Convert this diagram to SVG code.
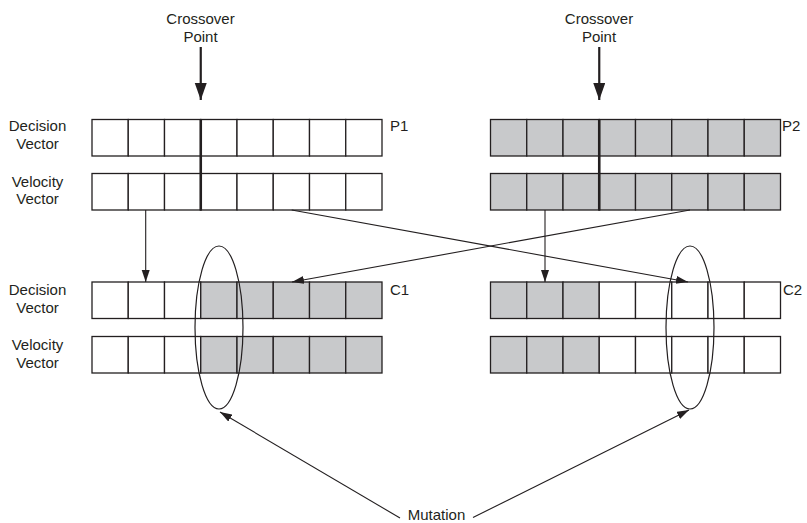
<svg xmlns="http://www.w3.org/2000/svg" width="807" height="523" viewBox="0 0 807 523">
  <style>
    .lbl { font-family: "Liberation Sans", Arial, sans-serif; font-size: 15px; fill: #231f20; }
    .mid { text-anchor: middle; }
    .cell { stroke: #231f20; stroke-width: 1.3; }
    .w { fill: #ffffff; }
    .g { fill: #c8c9cb; }
    .cut { stroke: #231f20; stroke-width: 2.6; }
    .conn { stroke: #231f20; stroke-width: 1.1; fill: none; }
    .ring { stroke: #231f20; stroke-width: 1.2; fill: none; }
  </style>
  <defs>
    <marker id="arr" markerUnits="userSpaceOnUse" markerWidth="13" markerHeight="9" refX="12" refY="4" orient="auto">
      <path d="M0,0 L12,4 L0,8 z" fill="#231f20"/>
    </marker>
    <marker id="arrBig" markerUnits="userSpaceOnUse" markerWidth="18" markerHeight="13" refX="17" refY="6" orient="auto">
      <path d="M0,0 L17,6 L0,12 z" fill="#231f20"/>
    </marker>
    <!-- one row of 8 cells, 36.25 wide -->
    <g id="cellsW">
      <rect class="cell w" x="0" y="0" width="36.25" height="36.5"/>
      <rect class="cell w" x="36.25" y="0" width="36.25" height="36.5"/>
      <rect class="cell w" x="72.5" y="0" width="36.25" height="36.5"/>
      <rect class="cell w" x="108.75" y="0" width="36.25" height="36.5"/>
      <rect class="cell w" x="145" y="0" width="36.25" height="36.5"/>
      <rect class="cell w" x="181.25" y="0" width="36.25" height="36.5"/>
      <rect class="cell w" x="217.5" y="0" width="36.25" height="36.5"/>
      <rect class="cell w" x="253.75" y="0" width="36.25" height="36.5"/>
    </g>
    <g id="cellsG">
      <rect class="cell g" x="0" y="0" width="36.25" height="36.5"/>
      <rect class="cell g" x="36.25" y="0" width="36.25" height="36.5"/>
      <rect class="cell g" x="72.5" y="0" width="36.25" height="36.5"/>
      <rect class="cell g" x="108.75" y="0" width="36.25" height="36.5"/>
      <rect class="cell g" x="145" y="0" width="36.25" height="36.5"/>
      <rect class="cell g" x="181.25" y="0" width="36.25" height="36.5"/>
      <rect class="cell g" x="217.5" y="0" width="36.25" height="36.5"/>
      <rect class="cell g" x="253.75" y="0" width="36.25" height="36.5"/>
    </g>
    <!-- first three white, last five grey -->
    <g id="cellsWG">
      <rect class="cell w" x="0" y="0" width="36.25" height="36.5"/>
      <rect class="cell w" x="36.25" y="0" width="36.25" height="36.5"/>
      <rect class="cell w" x="72.5" y="0" width="36.25" height="36.5"/>
      <rect class="cell g" x="108.75" y="0" width="36.25" height="36.5"/>
      <rect class="cell g" x="145" y="0" width="36.25" height="36.5"/>
      <rect class="cell g" x="181.25" y="0" width="36.25" height="36.5"/>
      <rect class="cell g" x="217.5" y="0" width="36.25" height="36.5"/>
      <rect class="cell g" x="253.75" y="0" width="36.25" height="36.5"/>
    </g>
    <!-- first three grey, last five white -->
    <g id="cellsGW">
      <rect class="cell g" x="0" y="0" width="36.25" height="36.5"/>
      <rect class="cell g" x="36.25" y="0" width="36.25" height="36.5"/>
      <rect class="cell g" x="72.5" y="0" width="36.25" height="36.5"/>
      <rect class="cell w" x="108.75" y="0" width="36.25" height="36.5"/>
      <rect class="cell w" x="145" y="0" width="36.25" height="36.5"/>
      <rect class="cell w" x="181.25" y="0" width="36.25" height="36.5"/>
      <rect class="cell w" x="217.5" y="0" width="36.25" height="36.5"/>
      <rect class="cell w" x="253.75" y="0" width="36.25" height="36.5"/>
    </g>
  </defs>

  <rect x="0" y="0" width="807" height="523" fill="#ffffff"/>

  <!-- row labels -->
  <g id="labels-left">
    <text class="lbl mid" x="37.5" y="131">Decision</text>
    <text class="lbl mid" x="37.5" y="149">Vector</text>
    <text class="lbl mid" x="37.5" y="187">Velocity</text>
    <text class="lbl mid" x="37.5" y="204">Vector</text>
    <text class="lbl mid" x="37.5" y="295">Decision</text>
    <text class="lbl mid" x="37.5" y="313">Vector</text>
    <text class="lbl mid" x="37.5" y="350">Velocity</text>
    <text class="lbl mid" x="37.5" y="368">Vector</text>
  </g>

  <!-- parent 1 -->
  <g id="p1">
    <use href="#cellsW" x="92" y="119.5"/>
    <use href="#cellsW" x="92" y="173.5"/>
    <text class="lbl" x="390" y="131">P1</text>
  </g>

  <!-- parent 2 -->
  <g id="p2">
    <use href="#cellsG" x="490.5" y="119.5"/>
    <use href="#cellsG" x="490.5" y="173.5"/>
    <text class="lbl" x="782" y="131">P2</text>
  </g>

  <!-- child 1 -->
  <g id="c1">
    <use href="#cellsWG" x="92" y="282"/>
    <use href="#cellsWG" x="92" y="336.5"/>
    <text class="lbl" x="390" y="295">C1</text>
  </g>

  <!-- child 2 -->
  <g id="c2">
    <use href="#cellsGW" x="490.5" y="282"/>
    <use href="#cellsGW" x="490.5" y="336.5"/>
    <text class="lbl" x="783" y="295">C2</text>
  </g>

  <!-- crossover points -->
  <g id="crossover-left">
    <text class="lbl mid" x="200.5" y="24">Crossover</text>
    <text class="lbl mid" x="200.5" y="42">Point</text>
    <line class="cut" x1="200.75" y1="47" x2="200.75" y2="100" marker-end="url(#arrBig)" style="stroke-width:2.2"/>
    <line class="cut" x1="200.75" y1="119" x2="200.75" y2="210.5"/>
  </g>
  <g id="crossover-right">
    <text class="lbl mid" x="599" y="24">Crossover</text>
    <text class="lbl mid" x="599" y="42">Point</text>
    <line class="cut" x1="599.25" y1="47" x2="599.25" y2="100" marker-end="url(#arrBig)" style="stroke-width:2.2"/>
    <line class="cut" x1="599.25" y1="119" x2="599.25" y2="210.5"/>
  </g>

  <!-- mutation rings -->
  <g id="mutation">
    <ellipse class="ring" cx="219" cy="327.5" rx="24" ry="81.5"/>
    <ellipse class="ring" cx="690" cy="327.5" rx="24" ry="81.5"/>
    <text class="lbl mid" x="436.5" y="519.5">Mutation</text>
  </g>

  <!-- connectors -->
  <g id="connectors">
    <line class="conn" x1="400" y1="518" x2="220" y2="412" marker-end="url(#arr)"/>
    <line class="conn" x1="473" y1="517.5" x2="689" y2="410" marker-end="url(#arr)"/>
    <line class="conn" x1="145.7" y1="210" x2="145.7" y2="282" marker-end="url(#arr)"/>
    <line class="conn" x1="291.7" y1="210" x2="688" y2="282" marker-end="url(#arr)"/>
    <line class="conn" x1="690" y1="210" x2="292" y2="282" marker-end="url(#arr)"/>
    <line class="conn" x1="545" y1="210" x2="545" y2="282" marker-end="url(#arr)"/>
  </g>
</svg>
